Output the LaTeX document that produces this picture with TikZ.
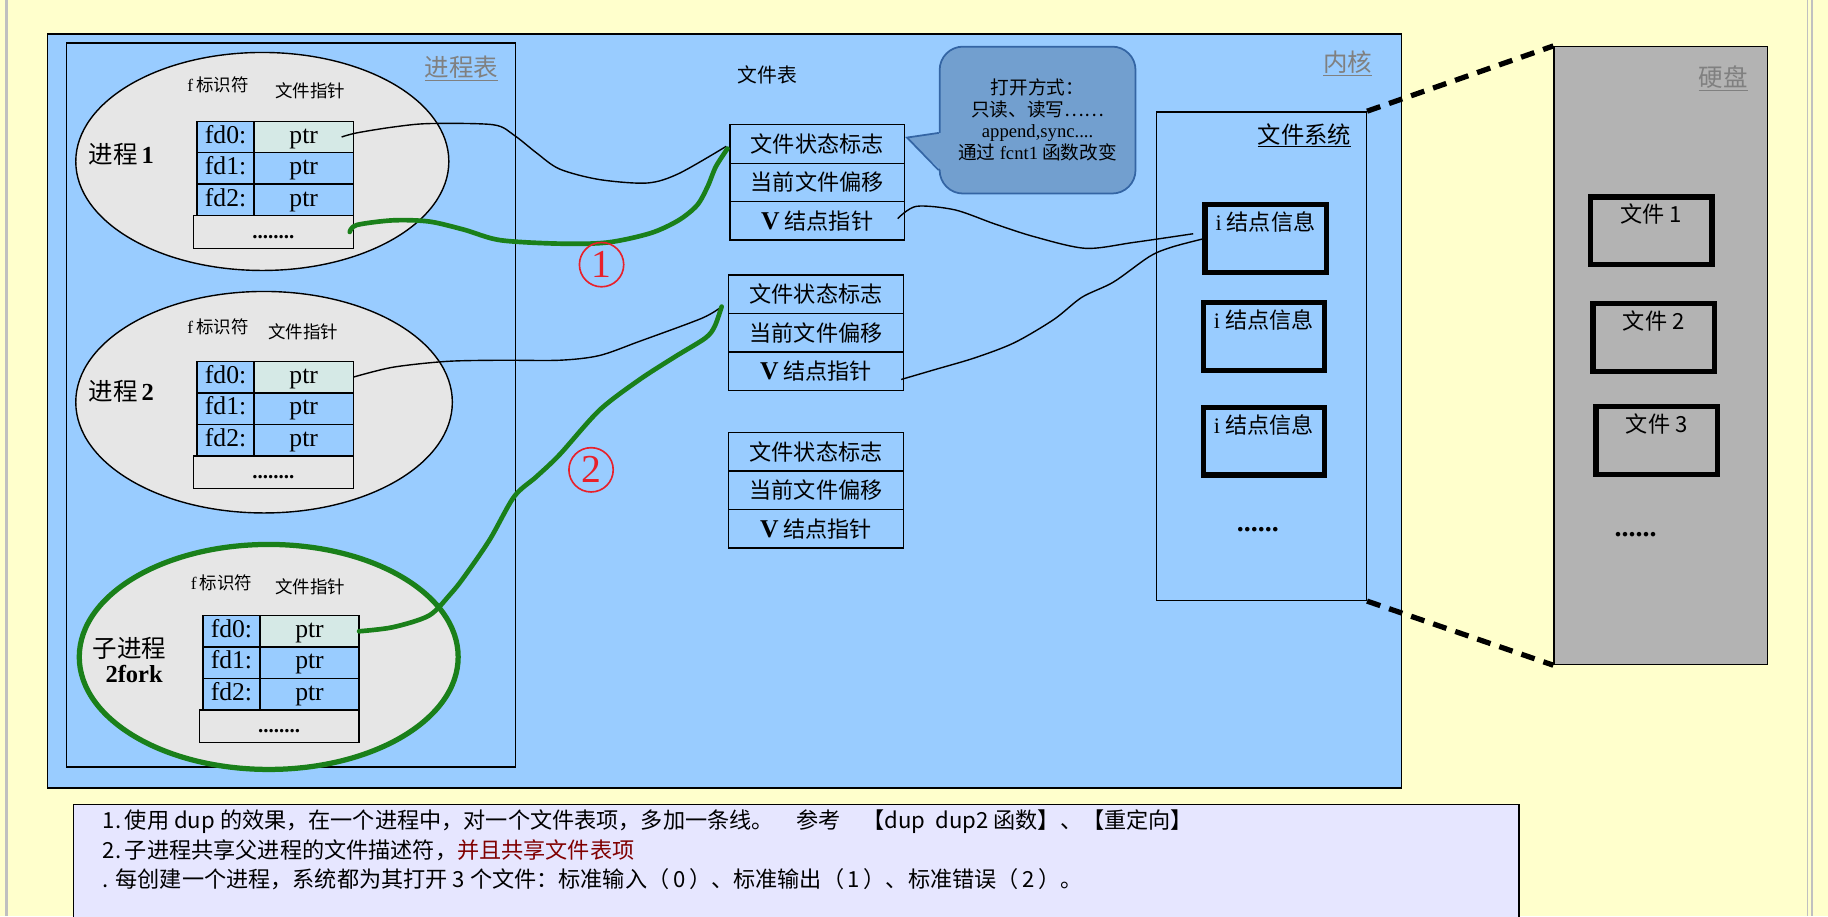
\documentclass[tikz,border=0pt]{standalone}
\usepackage{fontspec}
\setmainfont{Liberation Serif}
\newfontfamily\cjk{Noto Sans CJK SC}
\usetikzlibrary{positioning,shapes.geometric}
\definecolor{beijing}{HTML}{FFFFCC}
\definecolor{lan}{HTML}{99CCFF}
\definecolor{huibai}{HTML}{E6E6E6}
\definecolor{qingbai}{HTML}{D5E9E6}
\definecolor{qipaose}{HTML}{729FCF}
\definecolor{qipaobian}{HTML}{3465A4}
\definecolor{pan}{HTML}{B3B3B3}
\definecolor{zise}{HTML}{E6E6FF}
\definecolor{lv}{HTML}{1A801A}
\definecolor{hong}{HTML}{E8202A}
\definecolor{hui}{HTML}{808080}
\definecolor{zhehong}{HTML}{800000}
\newcommand{\vzi}{{\rmfamily\bfseries\fontsize{22}{22}\selectfont V}}
\tikzset{
  gezi/.style      = {draw, line width=1.2pt, inner sep=0pt, outer sep=0pt,
                      minimum height=27pt, text height=15pt, text depth=4.5pt,
                      font=\fontsize{22}{24}\selectfont},
  fdge/.style      = {gezi, fill=lan, minimum width=49pt},
  ptrge/.style     = {gezi, fill=lan, minimum width=85pt},
  ptrshou/.style   = {ptrge, fill=qingbai},
  diange/.style    = {gezi, fill=huibai, minimum width=137pt, minimum height=28pt,
                      font=\fontsize{18}{20}\selectfont\bfseries},
  tuoyuan/.style   = {ellipse, draw, fill=huibai, line width=1.2pt, inner sep=0pt},
  mingzi/.style    = {font=\cjk\fontsize{21}{24}\selectfont, inner sep=0pt},
  biaoqian/.style  = {font=\cjk\fontsize{15}{18}\selectfont, inner sep=0pt},
  huibiaoti/.style = {text=hui, font=\cjk\fontsize{21}{24}\selectfont, inner sep=1pt},
  ftge/.style      = {draw, line width=1.2pt, fill=lan, outer sep=0pt,
                      minimum width=150pt, minimum height=33pt,
                      font=\cjk\fontsize{19}{22}\selectfont},
  qipao/.style     = {draw=qipaobian, fill=qipaose, line width=1.5pt, rounded corners=20pt,
                      minimum width=168pt, minimum height=126pt, align=center,
                      font=\cjk\fontsize{16}{18.5}\selectfont},
  kuang/.style     = {draw, line width=4.5pt, inner sep=3pt, outer sep=0pt,
                      minimum width=104pt, text height=19pt, text depth=33pt,
                      font=\cjk\fontsize{19}{20}\selectfont},
  diandian/.style  = {font=\fontsize{24}{24}\selectfont\bfseries, inner sep=0pt},
  quan/.style      = {circle, draw=hong, text=hong, line width=1.4pt, minimum size=38pt,
                      inner sep=0pt, font=\fontsize{34}{34}\selectfont},
  shuoming/.style  = {font=\cjk\fontsize{19}{22}\selectfont, inner sep=0pt},
  heixian/.style   = {line width=1.2pt},
  lvxian/.style    = {draw=lv, line width=4pt, line cap=round, line join=round},
  xuxian/.style    = {line width=4.5pt, dash pattern=on 12pt off 8pt}
}
\begin{document}
\begin{tikzpicture}[x=1pt, y=-1pt]
        \fill[beijing] (0,0) rectangle (1568,786);
        \useasboundingbox (0,0) rectangle (1568,786);
        \draw[hui!50, line width=2pt] (5.5,0) -- (5.5,786);
        \draw[hui!50, line width=1.5pt] (1550.5,0) -- (1550.5,786) (1554,0) -- (1554,786);

        % kernel and process table
        \node[draw, fill=lan, line width=1.2pt, minimum width=1161pt, minimum height=647pt] (neihe) at (621.5,352.5) {};
        \node[huibiaoti] (neihebt) at (1156,54) {\underline{内核}};
        \node[draw, line width=1.2pt, minimum width=385pt, minimum height=621pt] (jcb) at (249.5,347.5) {};
        \node[huibiaoti] (jcbbt) at (396,59) {\underline{进程表}};

        % process 1
        \node[tuoyuan, minimum width=320pt, minimum height=187pt] (e1) at (225,138.5) {};
        \node[mingzi] (e1mz) at (104,132) {进程\,{\rmfamily\bfseries 1}};
        \node[biaoqian] (e1fd) at (187,73) {{\rmfamily f}\,标识符};
        \node[biaoqian] (e1ptr) at (266,78) {文件指针};
        \node[fdge, anchor=north west] (p1fd0) at (169,104) {fd0:};
        \node[ptrshou, right=0pt of p1fd0] (p1ptr0) {ptr};
        \node[fdge, below=0pt of p1fd0] (p1fd1) {fd1:};
        \node[ptrge, right=0pt of p1fd1] (p1ptr1) {ptr};
        \node[fdge, below=0pt of p1fd1] (p1fd2) {fd2:};
        \node[ptrge, right=0pt of p1fd2] (p1ptr2) {ptr};
        \node[diange, anchor=north east] (p1dots) at (p1ptr2.south east) {........};

        % process 2
        \node[tuoyuan, minimum width=323pt, minimum height=190pt] (e2) at (226.5,345) {};
        \node[mingzi] (e2mz) at (104,336) {进程\,{\rmfamily\bfseries 2}};
        \node[biaoqian] (e2fd) at (187,280) {{\rmfamily f}\,标识符};
        \node[biaoqian] (e2ptr) at (260,285) {文件指针};
        \node[fdge, anchor=north west] (p2fd0) at (169,310) {fd0:};
        \node[ptrshou, right=0pt of p2fd0] (p2ptr0) {ptr};
        \node[fdge, below=0pt of p2fd0] (p2fd1) {fd1:};
        \node[ptrge, right=0pt of p2fd1] (p2ptr1) {ptr};
        \node[fdge, below=0pt of p2fd1] (p2fd2) {fd2:};
        \node[ptrge, right=0pt of p2fd2] (p2ptr2) {ptr};
        \node[diange, anchor=north east] (p2dots) at (p2ptr2.south east) {........};

        % child process
        \node[tuoyuan, draw=lv, line width=4.5pt, minimum width=325pt, minimum height=193pt] (e3) at (230.5,563.5) {};
        \node[mingzi] (e3mz) at (111,556) {子进程};
        \node[mingzi, font=\fontsize{21}{22}\selectfont\bfseries] (e3fork) at (115,578) {2fork};
        \node[biaoqian] (e3fd) at (190,500) {{\rmfamily f}\,标识符};
        \node[biaoqian] (e3ptr) at (266,503) {文件指针};
        \node[fdge, anchor=north west] (p3fd0) at (174,528) {fd0:};
        \node[ptrshou, right=0pt of p3fd0] (p3ptr0) {ptr};
        \node[fdge, below=0pt of p3fd0] (p3fd1) {fd1:};
        \node[ptrge, right=0pt of p3fd1] (p3ptr1) {ptr};
        \node[fdge, below=0pt of p3fd1] (p3fd2) {fd2:};
        \node[ptrge, right=0pt of p3fd2] (p3ptr2) {ptr};
        \node[diange, anchor=north east] (p3dots) at (p3ptr2.south east) {........};

        % file table
        \node[biaoqian, font=\cjk\fontsize{17}{18}\selectfont] (wjb) at (658,64) {文件表};
        \node[ftge, anchor=north west] (ft1a) at (626,107) {文件状态标志};
        \node[ftge, below=0pt of ft1a] (ft1b) {当前文件偏移};
        \node[ftge, below=0pt of ft1b] (ft1c) {\vzi\ 结点指针};
        \node[ftge, anchor=north west] (ft2a) at (625,236) {文件状态标志};
        \node[ftge, below=0pt of ft2a] (ft2b) {当前文件偏移};
        \node[ftge, below=0pt of ft2b] (ft2c) {\vzi\ 结点指针};
        \node[ftge, anchor=north west] (ft3a) at (625,371) {文件状态标志};
        \node[ftge, below=0pt of ft3a] (ft3b) {当前文件偏移};
        \node[ftge, below=0pt of ft3b] (ft3c) {\vzi\ 结点指针};

        % callout
        \node[qipao] (qp) at (890,103) {打开方式：\\ 只读、读写……\\ {\rmfamily append,sync....}\\ 通过 {\rmfamily fcnt1} 函数改变};
        \coordinate (jian) at (778,118);
        \fill[qipaose] (jian) -- ([xshift=2pt,yshift=-11pt]qp.west) -- ([xshift=2pt,yshift=-43pt]qp.west) -- cycle;
        \draw[qipaobian, line width=1.5pt] ([yshift=-11pt]qp.west) -- (jian) -- ([yshift=-43pt]qp.west);

        % file system
        \node[draw, line width=1.2pt, minimum width=180pt, minimum height=419pt] (wjxt) at (1082,305.5) {};
        \node[biaoqian, font=\cjk\fontsize{20}{24}\selectfont] (wjxtbt) at (1119,116) {\underline{文件系统}};
        \node[kuang, fill=lan] (in1) at (1085.5,204.5) {{\rmfamily i} 结点信息};
        \node[kuang, fill=lan] (in2) at (1084,288.5) {{\rmfamily i} 结点信息};
        \node[kuang, fill=lan] (in3) at (1084,378.5) {{\rmfamily i} 结点信息};
        \node[diandian] (indots) at (1079,454) {......};

        % disk
        \node[draw, fill=pan, line width=1.2pt, minimum width=183pt, minimum height=530pt] (yingpan) at (1424.5,305) {};
        \node[huibiaoti] (ypbt) at (1478,67) {\underline{硬盘}};
        \node[kuang, fill=pan] (wj1) at (1416.5,198) {文件 1};
        \node[kuang, fill=pan] (wj2) at (1418.5,289.5) {文件 2};
        \node[kuang, fill=pan] (wj3) at (1421,378) {文件 3};
        \node[diandian] (ypdots) at (1403,459) {......};

        \draw[xuxian] (wjxt.north east) -- (yingpan.north west);
        \draw[xuxian] (wjxt.south east) -- (yingpan.south west);

        % notes
        \node[draw, fill=zise, line width=1.5pt, minimum width=1240pt, minimum height=105pt] (sm) at (683,742.5) {};
        \node[shuoming, anchor=base west] (sm1) at (88,711) {1.\,使用 dup 的效果，在一个进程中，对一个文件表项，多加一条线。\quad 参考\quad 【dup\ \ dup2 函数】、【重定向】};
        \node[shuoming, anchor=base west] (sm2) at (88,736) {2.\,子进程共享父进程的文件描述符，\textcolor{zhehong}{并且共享文件表项}};
        \node[shuoming, anchor=base west] (sm3) at (88,761) {. 每创建一个进程，系统都为其打开 3 个文件：标准输入（\,0\,）、标准输出（\,1\,）、标准错误（\,2\,）。};

        % links
        \draw[heixian] plot[smooth, tension=0.5] coordinates {([xshift=-10pt]p1ptr0.east) (306,114) (337,109) (368,106) (423,107) (441,116) (460,131) (480,145) (514,154) (555,157) (582,149) ([xshift=-3pt,yshift=-2pt]ft1a.west)};
        \draw[heixian] plot[smooth, tension=0.5] coordinates {(p2ptr0.east) (337,315) (383,310) (429,309) (480,309) (514,305) (548,293) (602,273) ([xshift=-6pt,yshift=6pt]ft2a.south west)};
        \draw[heixian] plot[smooth, tension=0.5] coordinates {([xshift=-6pt,yshift=2pt]ft1c.east) (786,177) (819,180) (853,192) (887,203) (931,213) (972,208) ([xshift=-10pt,yshift=4pt]in1.west)};
        \draw[heixian] plot[smooth, tension=0.5] coordinates {([xshift=-2pt,yshift=-7pt]ft2c.east) (802,317) (836,307) (870,294) (904,274) (928,255) (955,242) (986,220) (1005,212) (in1.west)};
        \draw[lvxian] plot[smooth, tension=0.5] coordinates {([xshift=-3pt]p1dots.east) (306,193) (337,189) (368,190) (398,197) (429,206) (480,209) (521,208) (558,200) (582,189) (598,176) (607,160) (614,143) ([xshift=-2pt,yshift=-4pt]ft1a.west)};
        \draw[lvxian] plot[smooth, tension=0.5] coordinates {(p3ptr0.east) (337,538) (368,528) (386,510) (398,495) (420,463) (441,426) (460,409) (480,390) (514,352) (548,326) (579,306) (605,290) (613,280) ([xshift=-6pt,yshift=6pt]ft2a.south west)};

        \node[quan] (q1) at (516,227) {1};
        \node[quan] (q2) at (507,403) {2};
    \end{tikzpicture}
\end{document}
